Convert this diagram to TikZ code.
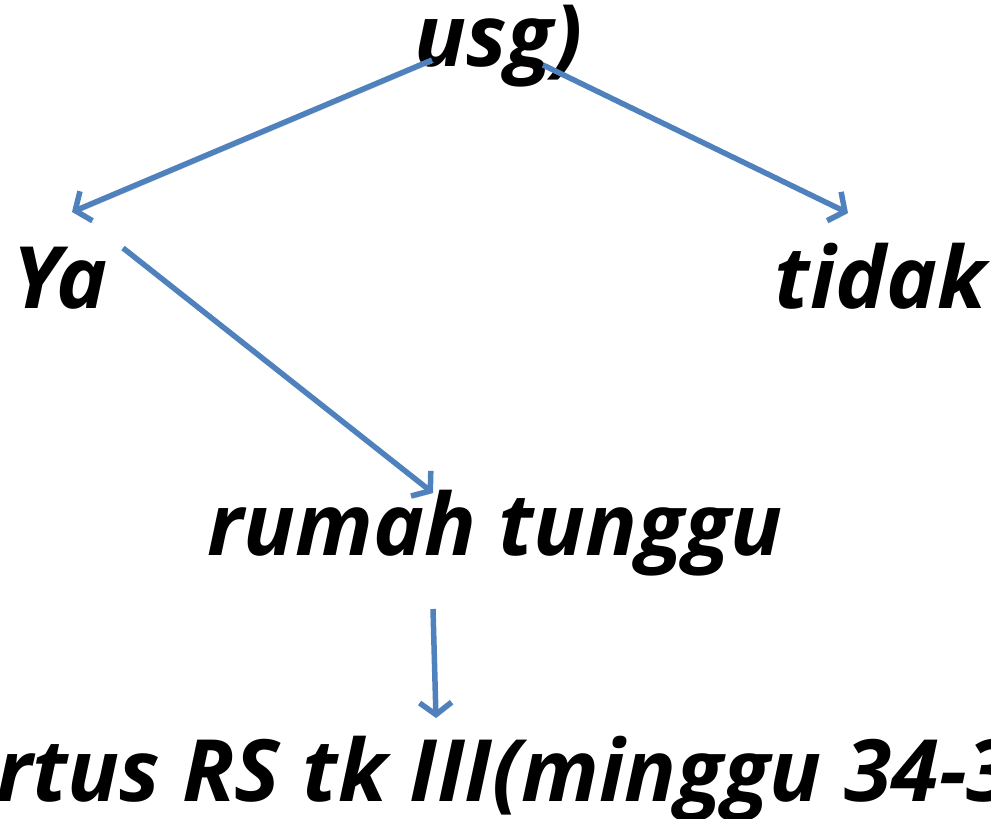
\documentclass[tikz,border=0pt]{standalone}
\usepackage{fontspec}
\setmainfont{Open Sans}
\usetikzlibrary{arrows.meta}
\definecolor{arrowblue}{HTML}{4F81BD}
\tikzset{
  lbl/.style={inner sep=0pt, anchor=base west, font=\fontsize{86}{100}\selectfont\bfseries\itshape},
  flow/.style={draw=arrowblue, line width=5.5pt,
    -{Straight Barb[length=12pt,width=32pt]},
    preaction={draw=black!22, transform canvas={shift={(1.5pt,-2.5pt)}}}}
}
\begin{document}
\begin{tikzpicture}[x=1pt,y=-1pt]
  \useasboundingbox (0,0) rectangle (991,819);
  % labels
  \node[lbl] (usg) at (414,66) {usg)};
  \node[lbl] (ya) at (12,308) {Ya};
  \node[lbl, anchor=base east] (tidak) at (987,308) {tidak};
  \node[lbl] (rumah) at (207,555) {rumah tunggu};
  \node[lbl] (partus) at (-4,801) {rtus RS tk III(minggu 34-3};
  % arrow ends
  \coordinate (usgL) at (432,60);
  \coordinate (usgR) at (543,65);
  \coordinate (yaIn) at (72,212);
  \coordinate (tidakIn) at (848,213);
  \coordinate (yaOut) at (123,248);
  \coordinate (rumahIn) at (433,493);
  \coordinate (rumahOut) at (433,609);
  \coordinate (partusIn) at (436,718);
  % connectors
  \draw[flow] (usgL) -- (yaIn);
  \draw[flow] (usgR) -- (tidakIn);
  \draw[flow] (yaOut) -- (rumahIn);
  \draw[flow] (rumahOut) -- (partusIn);
\end{tikzpicture}
\end{document}
